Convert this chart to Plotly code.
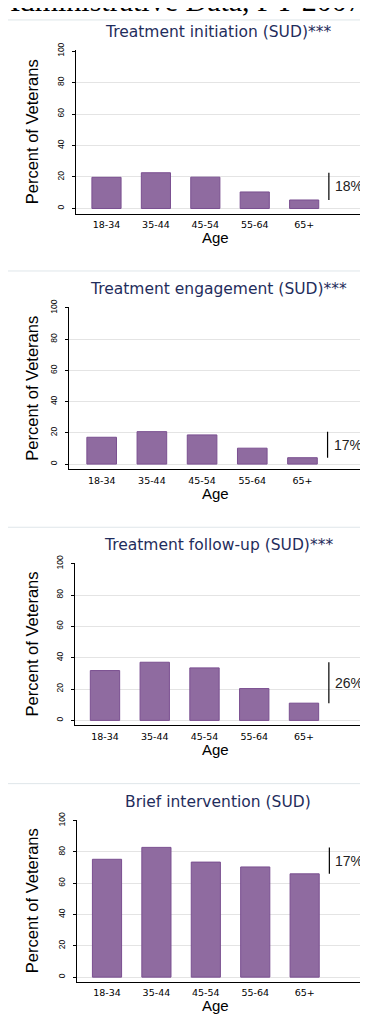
import plotly.graph_objects as go

# Data
ages = ["18-34", "35-44", "45-54", "55-64", "65+"]
titles = ["Treatment initiation (SUD)***", "Treatment engagement (SUD)***",
          "Treatment follow-up (SUD)***", "Brief intervention (SUD)"]
initiation = [19.8, 22.7, 19.9, 10.5, 5.4]
engagement = [17.2, 20.8, 18.7, 10.2, 4.1]
follow_up = [31.8, 37.1, 33.5, 20.3, 11.0]
brief = [75.3, 82.9, 73.5, 70.4, 66.0]
gap_labels = ["18%", "17%", "26%", "17%"]
y_ticks = [0, 20, 40, 60, 80, 100]

series = [initiation, engagement, follow_up, brief]

W, H = 368, 1020
OFF = 8  # page body margin
# layout in page pixels: (x left, y top, y bottom, y-range min, x-range)
panels = [
    (76, 43.3, 207.1, -3.2, [-0.617, 5.13]),
    (69, 302.3, 465.0, -3.4, [-0.651, 5.146]),
    (75, 560.0, 722.7, -3.0, [-0.603, 5.126]),
    (77.3, 819.0, 981.3, -2.9, [-0.601, 5.12]),
]
separators = [12, 265, 523.3, 781.7]

BAR = "#8f6ba0"
BAR_LINE = "#7a4f90"
NAVY = "#1f2d5c"
FONT = "Liberation Sans, Arial, sans-serif"
WIDE = "DejaVu Sans, Verdana, sans-serif"

def py_(v):
    return 1 - (v - OFF) / H

def px_(v):
    return (v - OFF) / W

fig = go.Figure()
shapes = []
annotations = []

for i, (vals, (xl, yt, yb, ymin, xr)) in enumerate(zip(series, panels)):
    n = "" if i == 0 else str(i + 1)
    fig.add_trace(go.Bar(x=ages, y=vals, xaxis="x" + n, yaxis="y" + n,
                         width=0.59, marker=dict(color=BAR, line=dict(color=BAR_LINE, width=1)),
                         showlegend=False))
    fig.layout["xaxis" + n] = dict(
        domain=[px_(xl), px_(360)], anchor="y" + n, range=xr, type="category",
        showgrid=False, showline=True, linecolor="black", linewidth=1.2,
        ticks="", tickfont=dict(family=WIDE, size=9.5, color="black"),
        ticklabelstandoff=2, fixedrange=True)
    fig.layout["yaxis" + n] = dict(
        domain=[py_(yb), py_(yt - 0.8)], anchor="x" + n, range=[ymin, 100.5],
        tickvals=y_ticks, tickangle=-90, ticks="outside", ticklen=3,
        tickcolor="black", showline=True, linecolor="black", linewidth=1.2,
        showgrid=True, gridcolor="#e4e4e4", gridwidth=1, zeroline=False,
        tickfont=dict(family=FONT, size=8.5, color="black"),
        ticklabelstandoff=5, fixedrange=True)

    # range bracket between lowest and highest bar
    shapes.append(dict(type="line", xref="x" + n, yref="y" + n,
                       x0=4.5, x1=4.5, y0=min(vals), y1=max(vals),
                       line=dict(color="black", width=1.2)))
    annotations.append(dict(xref="x" + n, yref="y" + n, x=4.58,
                            y=(min(vals) + max(vals)) / 2, text=gap_labels[i],
                            showarrow=False, xanchor="left", yanchor="middle",
                            font=dict(family=FONT, size=14, color="#222222")))

    yc = (yt + yb) / 2
    annotations.append(dict(xref="paper", yref="paper", x=px_(218), y=py_(yt - 19),
                            text=titles[i], showarrow=False, xanchor="center",
                            yanchor="middle", font=dict(family=WIDE, size=15.5, color=NAVY)))
    annotations.append(dict(xref="paper", yref="paper", x=px_(215), y=py_(yb + 24.5),
                            text="Age", showarrow=False, xanchor="center",
                            yanchor="middle", font=dict(family=FONT, size=15, color="black")))
    annotations.append(dict(xref="paper", yref="paper", x=px_(32), y=py_(yc),
                            text="Percent of Veterans", showarrow=False, textangle=-90,
                            xanchor="center", yanchor="middle",
                            font=dict(family=FONT, size=16.5, color="black")))

for s in separators:
    shapes.append(dict(type="line", xref="paper", yref="paper", x0=px_(8), x1=1,
                       y0=py_(s), y1=py_(s), line=dict(color="#dfe6ea", width=1)))

# header cut off at the top of the page
annotations.append(dict(xref="paper", yref="paper", x=px_(-4), y=py_(11),
                        text="Administrative Data, FY 2007", showarrow=False,
                        xanchor="left", yanchor="bottom",
                        font=dict(family="Liberation Serif, Times New Roman, serif",
                                  size=30, color="black")))

fig.update_layout(width=W, height=H, margin=dict(l=0, r=0, t=0, b=0),
                  paper_bgcolor="white", plot_bgcolor="white",
                  shapes=shapes, annotations=annotations, bargap=0.4)

fig.write_html("out.html")
